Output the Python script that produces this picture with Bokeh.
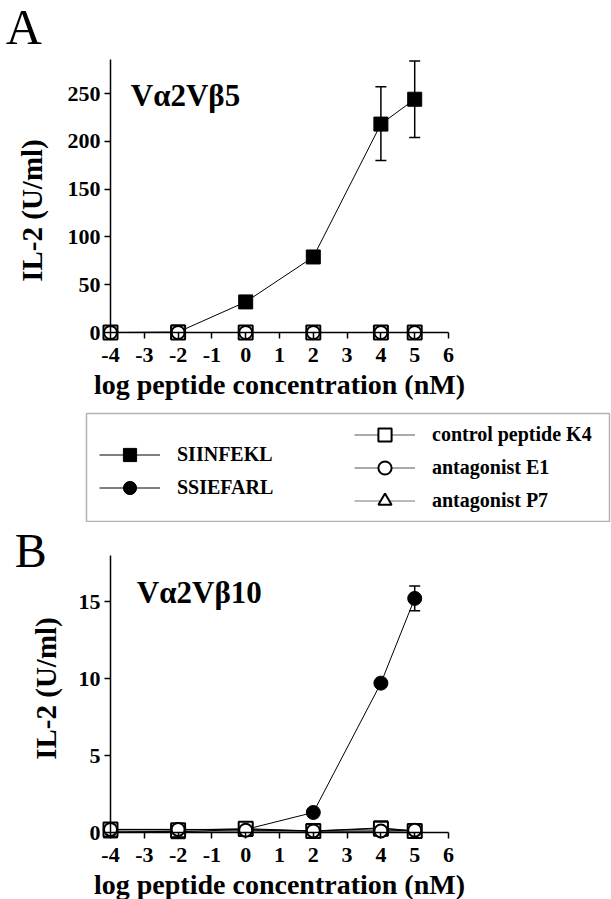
import math
from bokeh.plotting import figure
from bokeh.layouts import column
from bokeh.models import (Range1d, FixedTicker, Label, Legend, LegendItem,
                          ColumnDataSource, Whisker, TeeHead, BoxAnnotation)
from bokeh.embed import file_html
from bokeh.resources import INLINE

# ---------------- data ----------------
log_conc = [-4, -2, 0, 2, 4, 5]
x_ticks = [-4, -3, -2, -1, 0, 1, 2, 3, 4, 5, 6]
x_tick_labels = ["-4", "-3", "-2", "-1", "0", "1", "2", "3", "4", "5", "6"]

# Panel A: V alpha2 V beta5
a_yticks = [0, 50, 100, 150, 200, 250]
a_siinfekl = [0, 0.5, 32, 79, 218, 244]
a_ssiefarl = [0, 0, 0, 0, 0, 0]
a_k4 = [0, 0, 0, 0, 0, 0]
a_e1 = [0, 0, 0, 0, 0, 0]
a_p7 = [0, 0, 0, 0, 0, 0]
a_err_x = [4, 5]
a_err_lo = [180, 204]
a_err_hi = [257, 284]

# Panel B: V alpha2 V beta10
b_yticks = [0, 5, 10, 15]
b_siinfekl = [0.1, 0.05, 0.2, 0.1, 0.3, 0.1]
b_ssiefarl = [0.2, 0.2, 0.2, 1.3, 9.7, 15.2]
b_k4 = [0.2, 0.15, 0.25, 0.1, 0.25, 0.1]
b_e1 = [0.2, 0.2, 0.15, 0.1, 0.1, 0.15]
b_p7 = [0.05, 0.05, 0.05, 0.05, 0.05, 0.05]
b_err_x = [5]
b_err_lo = [14.4]
b_err_hi = [16.0]

SERIF = "Liberation Serif"
W = 611
NO_BORDER = dict(min_border_left=0, min_border_right=0, min_border_top=0,
                 min_border_bottom=0)


def style_axes(p, yticks, ytop):
    p.xaxis.ticker = FixedTicker(ticks=x_ticks)
    p.xaxis.major_label_overrides = {t: l for t, l in zip(x_ticks, x_tick_labels)}
    p.yaxis.ticker = FixedTicker(ticks=yticks)
    p.xaxis.bounds = (-4, 6)
    p.yaxis.bounds = (0, ytop)
    p.xaxis.fixed_location = 0
    p.yaxis.fixed_location = -4
    p.xaxis.axis_label = "log peptide concentration (nM)"
    for ax in (p.xaxis[0], p.yaxis[0]):
        ax.axis_line_width = 1.5
        ax.axis_line_color = "black"
        ax.major_tick_line_width = 1.5
        ax.major_tick_line_color = "black"
        ax.major_tick_in = 0
        ax.major_tick_out = 6
        ax.minor_tick_line_color = None
        ax.major_label_text_font = SERIF
        ax.major_label_text_font_style = "bold"
        ax.major_label_text_font_size = "22px"
        ax.major_label_text_color = "black"
        ax.axis_label_text_font = SERIF
        ax.axis_label_text_font_style = "bold"
        ax.axis_label_text_font_size = "28px"
        ax.axis_label_text_color = "black"
    p.xaxis.major_label_standoff = 9
    p.yaxis.major_label_standoff = 4
    p.xaxis.axis_label_standoff = 4
    p.grid.visible = False
    p.outline_line_color = None


def draw_series(p, siinfekl, ssiefarl, k4, e1, p7):
    for ys, col in ((p7, "#666666"), (siinfekl, "black"), (ssiefarl, "black"),
                    (k4, "black"), (e1, "black")):
        p.line(log_conc, ys, line_color=col, line_width=1)
    p.scatter(log_conc, siinfekl, marker="square", size=14,
              fill_color="black", line_color="black")
    p.scatter(log_conc, ssiefarl, marker="circle", size=14,
              fill_color="black", line_color="black")
    p.scatter(log_conc, p7, marker="triangle", size=12,
              fill_color="white", line_color="black", line_width=2)
    p.scatter(log_conc, k4, marker="square", size=14,
              fill_color="white", line_color="black", line_width=2)
    p.scatter(log_conc, e1, marker="circle", size=13,
              fill_color="white", line_color="black", line_width=2)


def add_err(p, xs, lo, hi):
    src = ColumnDataSource(dict(x=xs, lo=lo, hi=hi))
    p.add_layout(Whisker(base="x", lower="lo", upper="hi", source=src,
                         line_color="black", line_width=1.5, level="underlay",
                         upper_head=TeeHead(size=11, line_width=1.5, line_color="black"),
                         lower_head=TeeHead(size=11, line_width=1.5, line_color="black")))


def ylabel(p, x, y):
    p.add_layout(Label(x=x, y=y, text="IL-2 (U/ml)", angle=math.pi / 2,
                       text_font=SERIF, text_font_style="bold",
                       text_font_size="29px", text_align="center",
                       text_baseline="middle", text_color="black"))


X_RANGE = (-7.254, 10.822)

# ---------------- Panel A ----------------
pa = figure(width=W, height=408, output_backend="svg", toolbar_location=None,
            title=None, x_range=Range1d(*X_RANGE), y_range=Range1d(-79.5, 347.3),
            **NO_BORDER)
style_axes(pa, a_yticks, 286)
add_err(pa, a_err_x, a_err_lo, a_err_hi)
draw_series(pa, a_siinfekl, a_ssiefarl, a_k4, a_e1, a_p7)
ylabel(pa, -6.31, 127.6)
pa.add_layout(Label(x=-7.1, y=319.3, text="A", text_font=SERIF,
                    text_font_size="50px", text_align="left",
                    text_baseline="alphabetic", text_color="black"))
pa.add_layout(Label(x=-3.4, y=247.6, text="Vα2Vβ5", text_font=SERIF,
                    text_font_style="bold", text_font_size="31px",
                    text_align="left", text_baseline="alphabetic",
                    text_color="black"))

# ---------------- Legend panel ----------------
pl = figure(width=W, height=114, output_backend="svg", toolbar_location=None,
            title=None, x_range=Range1d(0, W), y_range=Range1d(0, 114),
            **NO_BORDER)
pl.axis.visible = False
pl.grid.visible = False
pl.outline_line_color = None
pl.add_layout(BoxAnnotation(left=86, right=609, bottom=1, top=109,
                            fill_alpha=0, line_color="black", line_width=1.5))


def legend_entry(label, marker, fill, line_col="black"):
    src = ColumnDataSource(dict(x=[float("nan")], y=[float("nan")]))
    rl = pl.line("x", "y", source=src, line_color=line_col, line_width=1)
    rm = pl.scatter("x", "y", source=src, marker=marker, fill_color=fill,
                    line_color="black", line_width=2 if fill == "white" else 1)
    return LegendItem(label=label, renderers=[rl, rm])


left_items = [legend_entry("SIINFEKL", "square", "black"),
              legend_entry("SSIEFARL", "circle", "black")]
right_items = [legend_entry("control peptide K4", "square", "white", "#555555"),
               legend_entry("antagonist E1", "circle", "white", "#555555"),
               legend_entry("antagonist P7", "triangle", "white", "#777777")]

common = dict(orientation="vertical", glyph_width=61, glyph_height=33,
              label_height=33, padding=0, margin=0, label_standoff=17,
              label_text_font=SERIF, label_text_font_style="bold",
              label_text_font_size="20px", label_text_color="black",
              border_line_color=None, background_fill_alpha=0)
pl.add_layout(Legend(items=left_items, location=(99, 18.5), spacing=0, **common))
pl.add_layout(Legend(items=right_items, location=(354, 5), spacing=0, **common))

# ---------------- Panel B ----------------
pb = figure(width=W, height=377, output_backend="svg", toolbar_location=None,
            title=None, x_range=Range1d(*X_RANGE), y_range=Range1d(-4.35, 20.13),
            **NO_BORDER)
style_axes(pb, b_yticks, 18)
add_err(pb, b_err_x, b_err_lo, b_err_hi)
draw_series(pb, b_siinfekl, b_ssiefarl, b_k4, b_e1, b_p7)
ylabel(pb, -5.91, 9.35)
pb.add_layout(Label(x=-6.83, y=18.28, text="B", text_font=SERIF,
                    text_font_size="48px", text_align="left",
                    text_baseline="alphabetic", text_color="black"))
pb.add_layout(Label(x=-3.22, y=15.58, text="Vα2Vβ10", text_font=SERIF,
                    text_font_style="bold", text_font_size="31px",
                    text_align="left", text_baseline="alphabetic",
                    text_color="black"))

layout = column(pa, pl, pb, spacing=0)
open("out.html", "w").write(file_html(layout, INLINE))
